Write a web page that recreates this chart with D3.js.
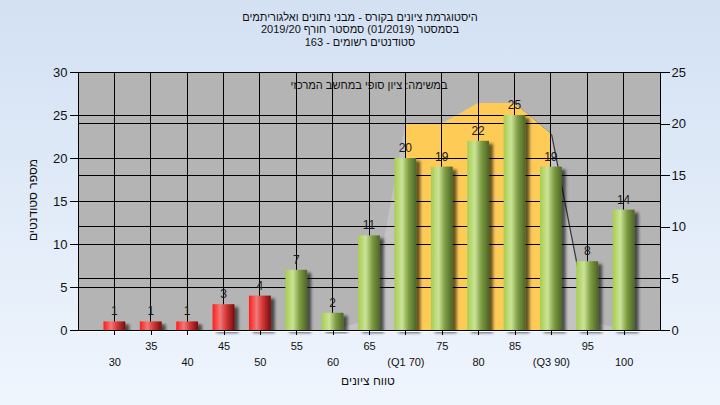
<!DOCTYPE html>
<html><head><meta charset="utf-8">
<script src="https://cdn.jsdelivr.net/npm/d3@7"></script>
<style>
html,body{margin:0;padding:0;}
svg{display:block;font-family:"Liberation Sans",Arial,"DejaVu Sans",sans-serif;}
</style></head>
<body>
<svg id="chart" width="720" height="405"></svg>
<script>
// ---- data ----
const categories = ["30","35","40","45","50","55","60","65","70","75","80","85","90","95","100"];
const tickLabels = ["30","35","40","45","50","55","60","65","(Q1 70)","75","80","85","(Q3 90)","95","100"];
const counts = [1,1,1,3,4,7,2,11,20,19,22,25,19,8,14];
const distribution = [0,0,0,0,0,0,0,1,20,20,22,22,19,1,0];
const quartileRange = ["70","90"];
const failBelow = 55;
const leftTicks = [0,5,10,15,20,25,30];
const rightTicks = [0,5,10,15,20,25];
const titleLines = ["היסטוגרמת ציונים בקורס - מבני נתונים ואלגוריתמים",
                    "בסמסטר  (01/2019)  סמסטר חורף 2019/20",
                    "סטודנטים רשומים - 163"];
const subtitle = "במשימה: ציון סופי במחשב המרכזי";
const xTitle = "טווח ציונים";
const yTitle = "מספר סטודנטים";

// ---- layout ----
const W = 720, H = 405;
const P = {l:78, r:660, t:72, b:330};
const svg = d3.select("#chart");
const defs = svg.append("defs");

const bg = defs.append("linearGradient").attr("id","bg").attr("x1",0).attr("y1",0).attr("x2",0).attr("y2",1);
bg.append("stop").attr("offset","0%").attr("stop-color","#d3e1f3");
bg.append("stop").attr("offset","100%").attr("stop-color","#eff5fd");

function barGrad(id, stops){
  const g = defs.append("linearGradient").attr("id",id).attr("x1",0).attr("y1",0).attr("x2",1).attr("y2",0);
  stops.forEach(s=>g.append("stop").attr("offset",s[0]).attr("stop-color",s[1]));
}
barGrad("gRed",[["0%","#ff1c1c"],["35%","#f07a7a"],["60%","#d83a3a"],["100%","#7a0c0c"]]);
barGrad("gGreen",[["0%","#a6ce4e"],["35%","#cbe398"],["65%","#7e9c42"],["100%","#4b6626"]]);

const sh = defs.append("filter").attr("id","shadow").attr("x","-20%").attr("y","-10%").attr("width","160%").attr("height","130%");
sh.append("feGaussianBlur").attr("in","SourceAlpha").attr("stdDeviation",1.6).attr("result","b");
sh.append("feOffset").attr("in","b").attr("dx",4).attr("dy",3).attr("result","o");
sh.append("feComponentTransfer").attr("in","o").attr("result","s").append("feFuncA").attr("type","linear").attr("slope",0.6);
const mg = sh.append("feMerge");
mg.append("feMergeNode").attr("in","s");
mg.append("feMergeNode").attr("in","SourceGraphic");

svg.append("rect").attr("width",W).attr("height",H).attr("fill","url(#bg)");

// scales
const x = d3.scalePoint().domain(categories).range([P.l,P.r]).padding(1);
const yL = d3.scaleLinear().domain([0,30]).range([P.b,P.t]);
const yR = d3.scaleLinear().domain([0,25]).range([P.b,P.t]);
const bw = x.step()*0.6;

// plot background
svg.append("rect").attr("x",P.l).attr("y",P.t).attr("width",P.r-P.l).attr("height",P.b-P.t).attr("fill","#b4b4b4");

// distribution area (secondary axis)
const idx = categories.map((c,i)=>i);
const area = d3.area().x(i=>x(categories[i])).y0(P.b).y1(i=>yR(distribution[i]));
const visIdx = idx.filter(i=>distribution[i]>0 || distribution[i-1]>0 || distribution[i+1]>0);
svg.append("path").datum(visIdx).attr("d",area).attr("fill","#3c3c3c").attr("transform","translate(1.5,1)");
svg.append("path").datum(visIdx).attr("d",area).attr("fill","#c3c3c3");
const q0 = categories.indexOf(quartileRange[0]), q1 = categories.indexOf(quartileRange[1]);
svg.append("path").datum(idx.filter(i=>i>=q0&&i<=q1)).attr("d",area).attr("fill","#ffcb57");

// gridlines
const grid = svg.append("g").attr("stroke","#000").attr("stroke-width",1).attr("shape-rendering","crispEdges");
leftTicks.forEach(v=>grid.append("line").attr("x1",P.l).attr("x2",P.r).attr("y1",yL(v)).attr("y2",yL(v)));
rightTicks.forEach(v=>grid.append("line").attr("x1",P.l).attr("x2",P.r).attr("y1",yR(v)).attr("y2",yR(v)));
categories.forEach(c=>grid.append("line").attr("x1",x(c)).attr("x2",x(c)).attr("y1",P.t).attr("y2",P.b));

// subtitle inside plot
svg.append("text").attr("x",(P.l+P.r)/2).attr("y",89).attr("text-anchor","middle")
  .attr("font-size",11).attr("fill","#111").attr("direction","rtl").attr("unicode-bidi","embed").text(subtitle);

// bars
svg.append("g").selectAll("rect").data(categories).join("rect")
  .attr("x",c=>x(c)-bw/2).attr("width",bw)
  .attr("y",(c,i)=>yL(counts[i])).attr("height",(c,i)=>P.b-yL(counts[i]))
  .attr("fill",c=>(+c<failBelow)?"url(#gRed)":"url(#gGreen)")
  .attr("filter","url(#shadow)");

// bar labels
svg.append("g").selectAll("text").data(categories).join("text")
  .attr("x",c=>x(c)).attr("y",(c,i)=>yL(counts[i])-6)
  .attr("text-anchor","middle").attr("font-size",12).attr("fill","#1a1a1a")
  .text((c,i)=>counts[i]);

// plot border
svg.append("rect").attr("x",P.l+0.5).attr("y",P.t+0.5).attr("width",P.r-P.l).attr("height",P.b-P.t)
  .attr("fill","none").attr("stroke","#000");
svg.append("line").attr("x1",P.l).attr("x2",P.r+1).attr("y1",P.b+1.5).attr("y2",P.b+1.5).attr("stroke","#fff");

// axes
const axL = svg.append("g").attr("transform",`translate(${P.l+0.5},0)`)
  .call(d3.axisLeft(yL).tickValues(leftTicks).tickSize(9).tickSizeOuter(0).tickPadding(2));
const axR = svg.append("g").attr("transform",`translate(${P.r+0.5},0)`)
  .call(d3.axisRight(yR).tickValues(rightTicks).tickSize(9).tickSizeOuter(0).tickPadding(2));
[axL,axR].forEach(a=>{
  a.select(".domain").remove();
  a.selectAll("line").attr("stroke","#000").attr("shape-rendering","crispEdges");
  a.selectAll("text").attr("font-size",13).attr("fill","#111").attr("font-family","Liberation Sans, Arial, sans-serif");
});
const axB = svg.append("g").attr("transform",`translate(0,${P.b})`)
  .call(d3.axisBottom(x).tickSize(5).tickSizeOuter(0).tickFormat((c,i)=>tickLabels[i]));
axB.select(".domain").remove();
axB.selectAll("line").attr("stroke","#000").attr("shape-rendering","crispEdges");
axB.selectAll("text").attr("font-size",11).attr("fill","#111").attr("font-family","Liberation Sans, Arial, sans-serif")
  .attr("dy",null).attr("y",(c,i)=> i%2===0 ? 36 : 20);

// titles
titleLines.forEach((t,i)=>{
  svg.append("text").attr("x",360).attr("y",20.5+i*12.7).attr("text-anchor","middle")
    .attr("font-size",11).attr("fill","#111").attr("direction","rtl").attr("unicode-bidi","embed").text(t);
});
svg.append("text").attr("x",368).attr("y",385).attr("text-anchor","middle")
  .attr("font-size",12).attr("fill","#111").attr("direction","rtl").attr("unicode-bidi","embed").text(xTitle);
svg.append("text").attr("transform","translate(37,200) rotate(-90)").attr("text-anchor","middle")
  .attr("font-size",12).attr("fill","#111").attr("direction","rtl").attr("unicode-bidi","embed").text(yTitle);
</script>
</body></html>
